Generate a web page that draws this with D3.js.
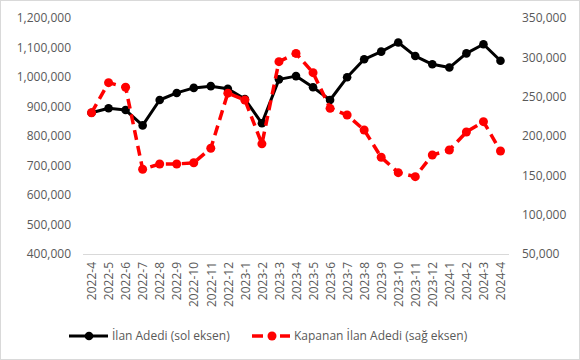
<!DOCTYPE html>
<html>
  <head>
    <style>
      body,
      html {
        margin: 0;
        padding: 0;
        background: #fff;
      }
      text {
        font-family: 'Open Sans', sans-serif;
      }
    </style>
  </head>
  <body>
    <svg id="svg" width="580" height="360"></svg>

    <script src="https://cdn.jsdelivr.net/npm/d3@7"></script>
    <script>
      const months = [
        '2022-4', '2022-5', '2022-6', '2022-7', '2022-8', '2022-9', '2022-10',
        '2022-11', '2022-12', '2023-1', '2023-2', '2023-3', '2023-4', '2023-5',
        '2023-6', '2023-7', '2023-8', '2023-9', '2023-10', '2023-11', '2023-12',
        '2024-1', '2024-2', '2024-3', '2024-4'
      ];
      // İlan Adedi (sol eksen)
      const ilanAdedi = [
        879000, 894000, 888000, 836000, 922000, 946000, 963000, 969000, 960000,
        925000, 843000, 992000, 1003000, 965000, 922000, 999000, 1060000,
        1086000, 1117000, 1071000, 1043000, 1032000, 1080000, 1111000, 1055000
      ];
      // Kapanan İlan Adedi (sağ eksen)
      const kapananIlan = [
        229600, 267800, 262000, 157700, 164400, 164400, 166000, 184400, 254500,
        245800, 190000, 294500, 305000, 280500, 235200, 226700, 207600, 173000,
        153400, 148300, 175900, 182200, 205100, 218200, 181000
      ];
      const leftTicks = [400000, 500000, 600000, 700000, 800000, 900000, 1000000, 1100000, 1200000];
      const rightTicks = [50000, 100000, 150000, 200000, 250000, 300000, 350000];

      const svg = d3.select('#svg');
      const fmt = d3.format(',');

      svg
        .append('rect')
        .attr('x', 0.5)
        .attr('y', 0.5)
        .attr('width', 579)
        .attr('height', 359)
        .attr('fill', '#fff')
        .attr('stroke', '#d9d9d9');

      const xScale = d3.scalePoint().domain(months).range([83, 509]).padding(0.5);
      const yLeft = d3.scaleLinear().domain([400000, 1200000]).range([254, 18]);
      const yRight = d3.scaleLinear().domain([50000, 350000]).range([254, 18]);

      // baseline
      svg
        .append('line')
        .attr('x1', 83)
        .attr('x2', 509)
        .attr('y1', 254.5)
        .attr('y2', 254.5)
        .attr('stroke', '#d9d9d9')
        .attr('stroke-width', 1);

      const leftAxis = d3.axisLeft(yLeft).tickValues(leftTicks).tickFormat(fmt).tickSize(0).tickPadding(0);
      const gl = svg.append('g').attr('transform', 'translate(71,0)').call(leftAxis);
      const rightAxis = d3.axisRight(yRight).tickValues(rightTicks).tickFormat(fmt).tickSize(0).tickPadding(0);
      const gr = svg.append('g').attr('transform', 'translate(522,0)').call(rightAxis);
      [gl, gr].forEach((g) => {
        g.select('.domain').remove();
        g.selectAll('text').attr('fill', '#595959').style('font-size', '12px').style('font-family', "'Open Sans', sans-serif");
      });

      const xAxis = d3.axisBottom(xScale).tickSize(0).tickPadding(0);
      const gx = svg.append('g').attr('transform', 'translate(0,262)').call(xAxis);
      gx.select('.domain').remove();
      gx.selectAll('text')
        .attr('fill', '#595959')
        .style('font-size', '12px')
        .style('font-family', "'Open Sans', sans-serif")
        .attr('transform', 'rotate(-90)')
        .attr('text-anchor', 'end')
        .attr('x', 0)
        .attr('y', 0)
        .attr('dy', '0.35em');

      const lineLeft = d3
        .line()
        .x((d, i) => xScale(months[i]))
        .y((d) => yLeft(d));
      const lineRight = d3
        .line()
        .x((d, i) => xScale(months[i]))
        .y((d) => yRight(d));

      svg
        .append('path')
        .attr('d', lineLeft(ilanAdedi))
        .attr('fill', 'none')
        .attr('stroke', '#000')
        .attr('stroke-width', 3)
        .attr('stroke-linejoin', 'round');
      svg
        .append('g')
        .selectAll('circle')
        .data(ilanAdedi)
        .join('circle')
        .attr('cx', (d, i) => xScale(months[i]))
        .attr('cy', (d) => yLeft(d))
        .attr('r', 4.3)
        .attr('fill', '#000');

      svg
        .append('path')
        .attr('d', lineRight(kapananIlan))
        .attr('fill', 'none')
        .attr('stroke', '#ff0000')
        .attr('stroke-width', 3.5)
        .attr('stroke-dasharray', '10,6');
      svg
        .append('g')
        .selectAll('circle')
        .data(kapananIlan)
        .join('circle')
        .attr('cx', (d, i) => xScale(months[i]))
        .attr('cy', (d) => yRight(d))
        .attr('r', 4.5)
        .attr('fill', '#ff0000');

      // legend
      const lg = svg.append('g');
      lg.append('line').attr('x1', 69).attr('x2', 108).attr('y1', 336).attr('y2', 336).attr('stroke', '#000').attr('stroke-width', 3);
      lg.append('circle').attr('cx', 89).attr('cy', 336).attr('r', 4.3).attr('fill', '#000');
      lg.append('text').attr('x', 112).attr('y', 336).attr('dy', '0.35em').attr('fill', '#595959').style('font-size', '12px').text('İlan Adedi (sol eksen)');

      lg.append('line').attr('x1', 252).attr('x2', 263).attr('y1', 336).attr('y2', 336).attr('stroke', '#ff0000').attr('stroke-width', 3.5);
      lg.append('line').attr('x1', 280).attr('x2', 290).attr('y1', 336).attr('y2', 336).attr('stroke', '#ff0000').attr('stroke-width', 3.5);
      lg.append('circle').attr('cx', 272).attr('cy', 336).attr('r', 4.5).attr('fill', '#ff0000');
      lg.append('text').attr('x', 294).attr('y', 336).attr('dy', '0.35em').attr('fill', '#595959').style('font-size', '12px').text('Kapanan İlan Adedi (sağ eksen)');
    </script>
  </body>
</html>
